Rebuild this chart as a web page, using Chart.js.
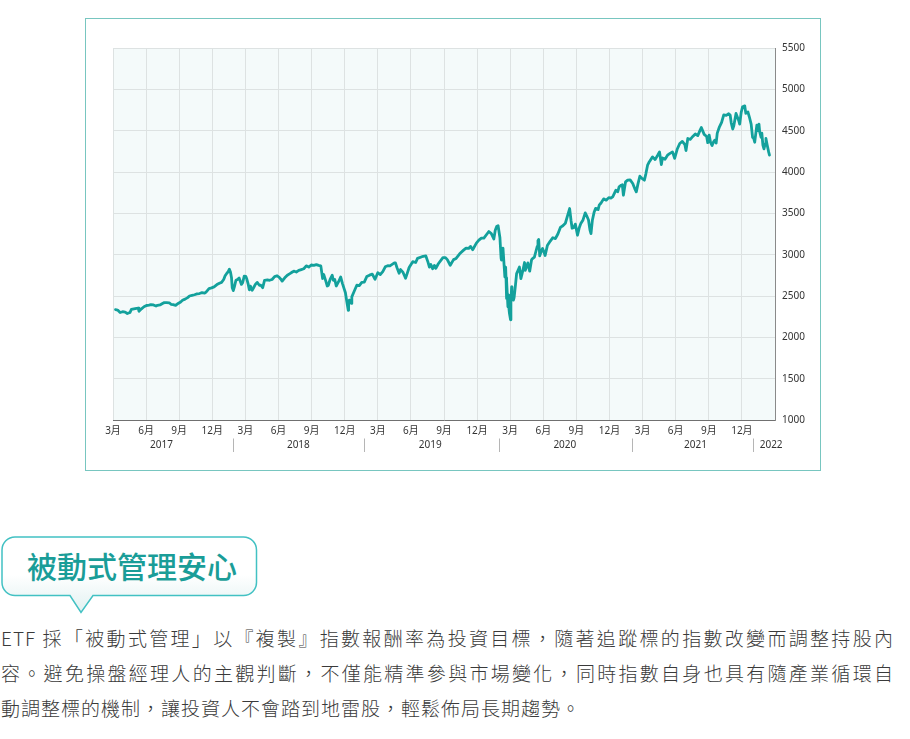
<!DOCTYPE html>
<html lang="zh-Hant">
<head>
<meta charset="utf-8">
<title>被動式管理安心</title>
<script src="https://cdn.jsdelivr.net/npm/chart.js@4.4.1/dist/chart.umd.min.js"></script>
<style>
  html, body { margin:0; padding:0; background:#fff; }
  body { width:910px; height:739px; position:relative; overflow:hidden; font-family:"Noto Sans CJK TC","Noto Sans",sans-serif; }
  #frame { position:absolute; left:85px; top:18px; width:734px; height:451px; border:1px solid #78c6c0; background:#fff; }
  #chart { position:absolute; left:0; top:0; }
  #bubble { position:absolute; left:0; top:530px; }
  #title { position:absolute; left:27px; top:547px; font-size:30px; line-height:37px; color:#1a9d98; font-weight:500; white-space:nowrap; }
  #text { position:absolute; left:1px; top:620px; width:893px; font-size:19px; letter-spacing:1px; line-height:35px; color:#3a3a3a; font-weight:300; }
  #text div { white-space:nowrap; }
  #text div.j { white-space:normal; text-align:justify; text-align-last:justify; }
</style>
</head>
<body>
<div id="frame"><canvas id="chart" width="734" height="451"></canvas></div>
<svg id="bubble" width="270" height="90" viewBox="0 0 270 90">
  <defs>
    <linearGradient id="bg" x1="0" y1="0" x2="0" y2="1">
      <stop offset="0" stop-color="#ffffff"/>
      <stop offset="0.5" stop-color="#ffffff"/>
      <stop offset="1" stop-color="#e1f1f1"/>
    </linearGradient>
  </defs>
  <path d="M15,7 H243.5 A13,13 0 0 1 256.5,20 V52.5 A13,13 0 0 1 243.5,65.5 H93 L81,82.5 L70,65.5 H15 A13,13 0 0 1 2,52.5 V20 A13,13 0 0 1 15,7 Z" fill="url(#bg)" stroke="#42c1c3" stroke-width="1.5"/>
</svg>
<div id="title">被動式管理安心</div>
<div id="text">
  <div class="j">ETF 採「被動式管理」以『複製』指數報酬率為投資目標，隨著追蹤標的指數改變而調整持股內</div>
  <div class="j">容。避免操盤經理人的主觀判斷，不僅能精準參與市場變化，同時指數自身也具有隨產業循環自</div>
  <div>動調整標的機制，讓投資人不會踏到地雷股，輕鬆佈局長期趨勢。</div>
</div>
<script>
// ---- data (index level) ----
const days2017 = ["03-08","03-14","03-21","03-28","04-04","04-10","04-17","04-21","04-28","05-05","05-10","05-12","05-19","05-26","06-02","06-09","06-14","06-21","06-28","07-02","07-09","07-16","07-21","07-28","08-04","08-09","08-15","08-22","08-29","09-05","09-10","09-17","09-24","09-29","10-06","10-13","10-20","10-27","11-03","11-10","11-14","11-22","11-29","12-06","12-14","12-21","12-27"];
const vals2017 = [2335,2330,2300,2310,2305,2288,2300,2338,2345,2350,2352,2315,2345,2370,2385,2390,2396,2392,2378,2387,2392,2410,2420,2420,2418,2400,2395,2387,2410,2428,2448,2462,2480,2500,2508,2515,2525,2530,2540,2535,2548,2590,2598,2610,2638,2655,2665];

const days2018 = ["01-02","01-06","01-10","01-14","01-18","01-21","01-24","01-26","01-29","02-01","02-05","02-09","02-13","02-19","02-22","02-26","03-02","03-05","03-09","03-12","03-15","03-20","03-24","03-29","04-03","04-09","04-13","04-18","04-23","05-01","05-07","05-14","05-21","05-28","06-03","06-08","06-11","06-18","06-25","07-02","07-09","07-13","07-20","07-27","08-03","08-10","08-17","08-24","08-31","09-07","09-14","09-20","09-26","10-01","10-04","10-10","10-14","10-17","10-22","10-28","10-31","11-04","11-08","11-14","11-20","11-25","11-30","12-03","12-07","12-11","12-12","12-14","12-20","12-21","12-28"];
const vals2018 = [2700,2745,2770,2790,2825,2790,2720,2600,2565,2610,2690,2700,2718,2640,2660,2740,2738,2705,2640,2575,2620,2570,2600,2640,2665,2630,2630,2600,2690,2695,2690,2700,2735,2745,2725,2700,2680,2720,2751,2770,2790,2800,2790,2810,2820,2830,2865,2850,2875,2870,2880,2870,2865,2712,2760,2680,2621,2630,2700,2751,2690,2700,2621,2670,2730,2650,2580,2540,2430,2327,2430,2450,2410,2490,2560];

const days2019 = ["01-04","01-11","01-18","01-25","02-01","02-08","02-15","02-22","03-01","03-08","03-15","03-22","03-29","04-04","04-16","04-19","04-23","04-29","05-03","05-10","05-17","05-21","05-27","06-06","06-14","06-19","07-01","07-12","07-18","07-22","07-26","07-31","08-05","08-09","08-16","08-29","09-05","09-10","09-18","09-27","10-04","10-14","10-25","11-01","11-08","11-13","11-19","11-29","12-06","12-13","12-20"];
const vals2019 = [2630,2625,2665,2668,2735,2752,2765,2703,2782,2760,2794,2853,2867,2865,2900,2900,2845,2775,2820,2785,2715,2765,2845,2915,2905,2955,2975,2984,2910,2850,2880,2830,2870,2835,2890,2965,2965,2940,2872,2940,2955,3010,3055,3080,3075,3100,3060,3140,3175,3200,3200];

const days2020 = ["01-03","01-10","01-17","01-21","01-25","01-29","02-03","02-06","02-07","02-11","02-16","02-18","02-19","02-20","02-21","02-24","02-25","02-26","02-28","03-02","03-03","03-05","03-06","03-10","03-12","03-16","03-19","03-24","03-27","03-31","04-05","04-10","04-12","04-19","04-24","04-29","05-01","05-07","05-10","05-15","05-17","05-19","05-22","05-26","05-30","06-06","06-12","06-20","06-27","07-04","07-11","07-18","07-25","08-01","08-08","08-13","08-17","08-20","08-25","08-29","09-04","09-09","09-13","09-19","09-25","09-29","10-04","10-08","10-11","10-15","10-20","10-24","10-31","11-03","11-08","11-15","11-22","11-29","12-05","12-10","12-19","12-24","12-28"];
const vals2020 = [3280,3255,3190,3295,3340,3350,3205,2960,2935,3080,2730,2850,2720,2470,2690,2370,2510,2380,2290,2212,2430,2610,2520,2450,2480,2640,2771,2820,2850,2710,2800,2905,2810,2900,2800,2935,2950,2970,3020,3100,3170,3185,2985,3040,3075,2990,3110,3165,3205,3195,3250,3330,3350,3380,3485,3558,3410,3320,3330,3370,3235,3330,3376,3420,3505,3470,3420,3300,3255,3420,3517,3560,3545,3598,3625,3675,3659,3690,3685,3699,3780,3760,3820];

const days2021 = ["01-03","01-06","01-09","01-15","01-21","01-28","02-04","02-09","02-13","02-17","02-22","02-28","03-06","03-10","03-15","03-20","03-29","04-05","04-12","04-17","04-22","04-25","05-02","05-09","05-16","05-23","05-29","06-05","06-12","06-19","06-26","06-29","07-04","07-11","07-18","07-25","08-01","08-07","08-11","08-19","08-26","08-29","09-02","09-06","09-10","09-14","09-17","09-21","09-24","09-30","10-06","10-12","10-19","10-26","10-30","11-02","11-06","11-09","11-15","11-22","11-25","11-29","12-03","12-09","12-12","12-18","12-22","12-27","12-31"];
const vals2021 = [3840,3845,3719,3880,3901,3905,3861,3800,3760,3850,3949,3920,3901,3975,4082,4125,4183,4150,4203,4243,4090,4170,4155,4203,4225,4243,4165,4275,4345,4370,4330,4260,4405,4395,4430,4460,4440,4500,4539,4455,4430,4355,4446,4355,4320,4365,4385,4350,4470,4547,4600,4690,4685,4705,4690,4595,4520,4560,4708,4627,4580,4720,4790,4800,4710,4725,4665,4580,4420];

const days2022 = ["01-03","01-06","01-08","01-12","01-15","01-18","01-20","01-24","01-26","01-29","02-01","02-04","02-06","02-09","02-13","02-15"];
const vals2022 = [4410,4360,4430,4567,4500,4580,4486,4420,4470,4325,4280,4340,4405,4330,4240,4204];

// axis labels
const monthTickLabels = ["3月","6月","9月","12月"];
const yearLabels = ["2017","2018","2019","2020","2021","2022"];
const yTickValues = [1000,1500,2000,2500,3000,3500,4000,4500,5000,5500];

// ---- build points: x = months since Jan 2017 ----
const series = [
  [2017, days2017, vals2017], [2018, days2018, vals2018], [2019, days2019, vals2019],
  [2020, days2020, vals2020], [2021, days2021, vals2021], [2022, days2022, vals2022]
];
const points = [];
series.forEach(([year, days, vals]) => {
  const n = Math.min(days.length, vals.length);
  for (let i = 0; i < n; i++) {
    const [m, d] = days[i].split('-').map(Number);
    const dim = new Date(year, m, 0).getDate();
    points.push({ x: (year - 2017) * 12 + (m - 1) + (d - 1) / dim, y: vals[i] });
  }
});

// month ticks every quarter (3月, 6月, 9月, 12月) from Mar 2017 to Dec 2021
const tickMonths = [];
for (let y = 0; y < 5; y++) for (let q = 0; q < 4; q++) tickMonths.push(y * 12 + 2 + q * 3);

const plotBg = {
  id: 'plotBg',
  beforeDraw(chart, args, opts) {
    const { ctx, chartArea: a } = chart;
    ctx.save();
    ctx.fillStyle = opts.color;
    ctx.fillRect(a.left, a.top, a.right - a.left, a.bottom - a.top);
    ctx.restore();
  }
};

const yearAxis = {
  id: 'yearAxis',
  afterDraw(chart, args, opts) {
    const { ctx, chartArea: a } = chart;
    const xs = chart.scales.x;
    ctx.save();
    ctx.font = opts.font;
    ctx.fillStyle = opts.color;
    ctx.textAlign = 'center';
    ctx.textBaseline = 'middle';
    yearLabels.forEach((t, i) => ctx.fillText(t, xs.getPixelForValue(opts.centers[i]), a.bottom + opts.labelOffset));
    ctx.strokeStyle = opts.sepColor;
    ctx.lineWidth = 1;
    opts.separators.forEach(v => {
      const px = Math.round(xs.getPixelForValue(v)) + 0.5;
      ctx.beginPath();
      ctx.moveTo(px, a.bottom + opts.sepTop);
      ctx.lineTo(px, a.bottom + opts.sepBottom);
      ctx.stroke();
    });
    ctx.restore();
  }
};

Chart.defaults.font.family = '"Noto Sans","Noto Sans CJK TC",sans-serif';

new Chart(document.getElementById('chart'), {
  type: 'line',
  data: {
    datasets: [{
      data: points,
      borderColor: '#13a19c',
      borderWidth: 2.8,
      pointRadius: 0,
      pointHoverRadius: 0,
      tension: 0,
      fill: false,
      borderJoinStyle: 'round',
      borderCapStyle: 'round'
    }]
  },
  options: {
    responsive: false,
    animation: false,
    events: [],
    layout: { padding: { left: 27, top: 29, right: 0, bottom: 0 } },
    plugins: {
      legend: { display: false },
      tooltip: { enabled: false },
      plotBg: { color: '#f4fafa' },
      yearAxis: {
        font: '10px "Noto Sans","Noto Sans CJK TC",sans-serif',
        color: '#333',
        centers: [6.4, 18.8, 30.75, 42.95, 54.8, 61.65],
        separators: [12.92, 24.76, 36.97, 49.05, 60.02],
        sepColor: '#b5b5b5',
        labelOffset: 25,
        sepTop: 18.5,
        sepBottom: 32
      }
    },
    scales: {
      x: {
        type: 'linear',
        min: 2,
        max: 62,
        afterBuildTicks: s => { s.ticks = tickMonths.map(v => ({ value: v })); },
        afterFit: s => { s.height = 50; },
        grid: { color: '#dde2e2', lineWidth: 1, drawTicks: false },
        border: { display: true, color: '#707070', width: 1 },
        ticks: {
          autoSkip: false, maxRotation: 0, minRotation: 0, padding: 5,
          color: '#333', font: { size: 10 },
          callback: v => monthTickLabels[((Math.round(v) - 2) / 3) % 4]
        }
      },
      y: {
        position: 'right',
        min: 1000,
        max: 5500,
        afterBuildTicks: s => { s.ticks = yTickValues.map(v => ({ value: v })); },
        afterFit: s => { s.width = 45; },
        grid: { color: '#dde2e2', lineWidth: 1, drawTicks: false },
        border: { display: true, color: '#8a8a8a', width: 1 },
        ticks: { padding: 7, color: '#333', font: { size: 10 }, callback: v => String(v) }
      }
    }
  },
  plugins: [plotBg, yearAxis]
});
</script>
</body>
</html>
